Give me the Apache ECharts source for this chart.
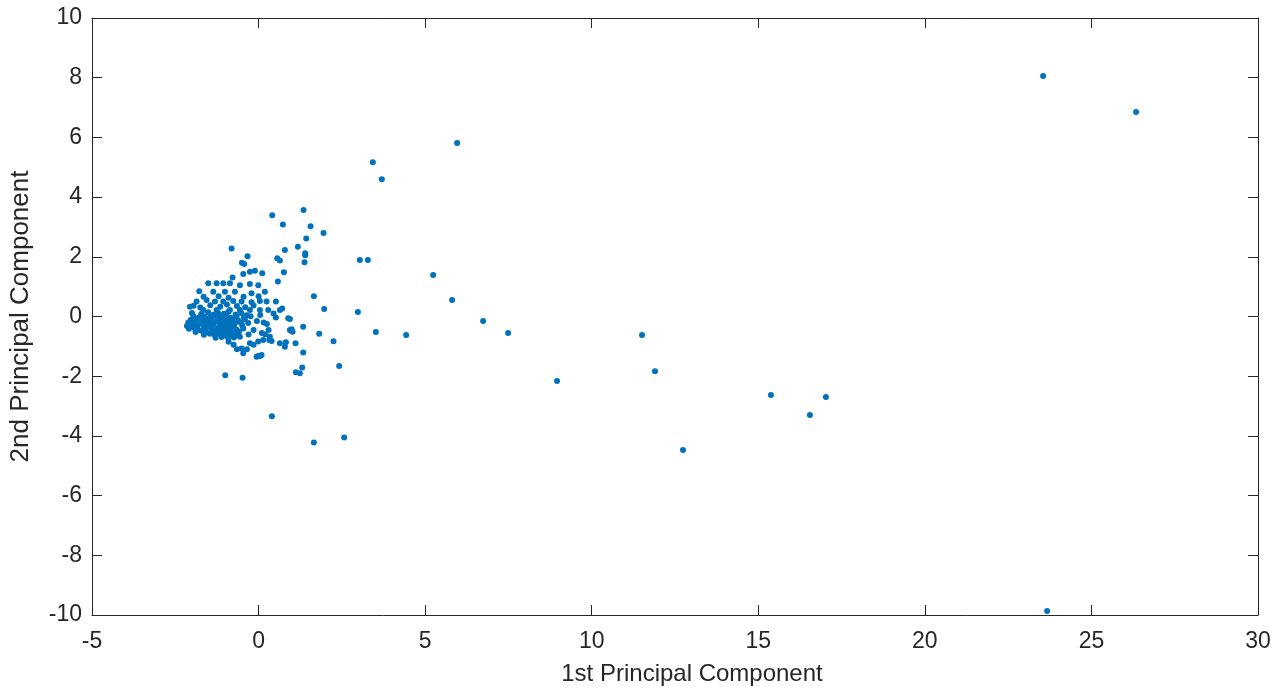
<!DOCTYPE html>
<html>
<head>
<meta charset="utf-8">
<script src="https://cdn.jsdelivr.net/npm/echarts@6/dist/echarts.min.js"></script>
<style>html,body{margin:0;padding:0;background:#fff}#c{width:1285px;height:692px}</style>
</head>
<body>
<div id="c"></div>
<script>
// Principal component scores (1st PC, 2nd PC)
const pc1 = [
  // far points
  23.55, 26.34, 23.67, 5.96, 3.43, 3.70, 5.24, 5.81, 6.74, 7.49, 4.43, 3.52, 2.98, 3.04, 3.28,
  8.96, 11.51, 11.90, 12.74, 15.38, 16.55, 17.03, 2.57, 1.66, 0.40, 2.42,
  // middle points
  0.41, 1.35, 0.73, 1.56, 1.95, 1.43, -0.81, 1.18, 0.79, 1.40, 1.40, 1.38, -0.33, -0.50, -0.43, 0.56, 0.64, 0.76, 0.58,
  -0.46, -0.26, -0.11, 0.11, -0.78,
  1.66, 1.97, 0.52, 0.71, 0.94, 0.99, 1.02, 1.34, 1.82, 2.25, 0.82, 1.11, 1.34, 1.31, 1.12, 1.24, -0.48, -1.00,
  -0.06, 0.04, 0.32, 0.39, 0.52,
  -1.51, -1.26, -1.06, -0.86, -0.56, -0.26, -0.01, -1.78, -1.36, -1.01, -0.71, -0.21, 0.19,
  -1.56, -1.31, -1.06, -0.76, -0.51, -0.21, 0.04, 0.24, -2.06, -1.86,
  -1.66, -1.26, -0.86, -0.56, -0.26, 0.04, 0.29, 0.64, 0.89, 0.94,
  -0.51, -0.46, -0.01, 0.09, -0.26, -0.01, 0.14, 0.34, 0.64, 0.79,
  -0.75, -0.65, -0.35, -0.15, -0.90, 0.15, 0.30, 0.05, 0.45, 0.20,
  // dense cluster
  -2.00, -1.72, -1.51, -1.36, -1.21, -1.04, -0.91, -0.69, -0.52, -0.36,
  -1.96, -1.79, -1.62, -1.44, -1.29, -1.14, -0.99, -0.84, -0.66, -0.44, -0.24,
  -2.04, -1.86, -1.69, -1.54, -1.41, -1.24, -1.09, -0.96, -0.79, -0.61, -0.41,
  -2.11, -1.91, -1.74, -1.59, -1.46, -1.31, -1.16, -1.01, -0.86, -0.71, -0.54, -0.31,
  -2.15, -1.99, -1.84, -1.66, -1.51, -1.36, -1.19, -1.06, -0.89, -0.74, -0.49,
  -2.09, -1.94, -1.81, -1.61, -1.44, -1.29, -1.14, -0.99, -0.84, -0.66, -0.46,
  -1.89, -1.71, -1.56, -1.39, -1.24, -1.09, -0.94, -0.79, -0.59,
  -1.64, -1.46, -1.31, -1.14, -0.99, -0.84, -0.69,
  -1.29, -1.11, -0.91, -0.74, -0.56,
  -1.95, -1.75, -1.45, -1.15, -0.95, -0.65, -0.40, -0.15,
  -1.65, -1.20, -0.90, -0.45, 0.00,
  -0.15, -0.05, 0.10, 0.25, -0.30
];
const pc2 = [
  // far points
  8.06, 6.85, -9.87, 5.81, 5.17, 4.60, 1.39, 0.55, -0.15, -0.55, -0.62, -0.52, 0.15, 1.89, 1.89,
  -2.16, -0.62, -1.83, -4.47, -2.63, -3.30, -2.70, -4.05, -4.22, -3.34, -1.66,
  // middle points
  3.39, 3.57, 3.08, 3.02, 2.80, 2.61, 2.28, 2.34, 2.23, 2.12, 2.05, 1.82, 2.02, 1.80, 1.76, 1.95, 1.88, 1.48, 1.17,
  1.42, 1.50, 1.53, 1.45, 1.31,
  0.68, 0.25, 0.50, 0.27, -0.08, -0.43, -0.51, -0.34, -0.58, -0.83, -0.86, -0.90, -1.21, -1.71, -1.87, -1.90, -2.05, -1.97,
  -1.35, -1.32, -0.79, -0.82, -0.03,
  1.11, 1.11, 1.11, 1.11, 1.05, 1.09, 1.05, 0.85, 0.83, 0.83, 0.83, 0.78, 0.83,
  0.55, 0.50, 0.50, 0.52, 0.50, 0.48, 0.52, 0.50, 0.33, 0.50,
  0.22, 0.22, 0.22, 0.22, 0.22, 0.22, 0.22, 0.22, -0.06, -0.45,
  -1.07, -1.23, -1.32, -1.29, -0.90, -0.84, -0.79, -0.68, -0.90, -1.01,
  -0.95, -1.10, -1.10, -0.95, -0.85, -0.20, -0.45, 0.05, 0.10, -0.60,
  // dense cluster
  0.12, 0.08, 0.14, 0.06, 0.11, 0.09, 0.15, 0.07, 0.12, 0.04,
  0.02, -0.03, 0.01, -0.02, 0.03, -0.01, 0.02, -0.04, 0.00, -0.03, 0.01,
  -0.12, -0.09, -0.13, -0.08, -0.11, -0.14, -0.07, -0.12, -0.09, -0.13, -0.10,
  -0.21, -0.18, -0.23, -0.19, -0.22, -0.17, -0.24, -0.20, -0.18, -0.23, -0.19, -0.22,
  -0.32, -0.28, -0.33, -0.29, -0.31, -0.27, -0.34, -0.30, -0.28, -0.33, -0.30,
  -0.41, -0.38, -0.44, -0.40, -0.37, -0.43, -0.39, -0.42, -0.38, -0.44, -0.40,
  -0.52, -0.48, -0.53, -0.49, -0.54, -0.50, -0.47, -0.53, -0.51,
  -0.61, -0.58, -0.63, -0.60, -0.64, -0.59, -0.62,
  -0.71, -0.69, -0.73, -0.70, -0.68,
  0.36, 0.30, 0.38, 0.33, 0.40, 0.35, 0.31, 0.37,
  0.66, 0.68, 0.63, 0.66, 0.68,
  -0.45, -0.15, -0.55, -0.25, -0.60
];
const xTicks = [-5, 0, 5, 10, 15, 20, 25, 30];
const yTicks = [-10, -8, -6, -4, -2, 0, 2, 4, 6, 8, 10];

const points = pc1.map((x, i) => [x, pc2[i]]);
const ink = '#262626';
const font = 'Liberation Sans, Arial, Helvetica, sans-serif';

const chart = echarts.init(document.getElementById('c'), null, {renderer: 'canvas'});
const baseAxis = {
  axisLine: {show: true, onZero: false, lineStyle: {color: ink, width: 1}},
  axisTick: {show: true, inside: true, length: 10, lineStyle: {color: ink}},
  splitLine: {show: false}
};
chart.setOption({
  animation: false,
  backgroundColor: '#ffffff',
  grid: {left: 92, top: 18, right: 27, bottom: 77, containLabel: false},
  xAxis: [
    Object.assign({}, baseAxis, {
      type: 'value', position: 'bottom', min: xTicks[0], max: xTicks[xTicks.length - 1], interval: 5,
      axisLabel: {color: ink, fontSize: 23, fontFamily: font, margin: 15},
      name: '1st Principal Component', nameLocation: 'middle', nameGap: 47,
      nameTextStyle: {color: ink, fontSize: 24, fontFamily: font, padding: [0, 0, 0, 34]}
    }),
    Object.assign({}, baseAxis, {
      type: 'value', position: 'top', min: xTicks[0], max: xTicks[xTicks.length - 1], interval: 5,
      axisLabel: {show: false}
    })
  ],
  yAxis: [
    Object.assign({}, baseAxis, {
      type: 'value', position: 'left', min: yTicks[0], max: yTicks[yTicks.length - 1], interval: 2,
      axisLabel: {color: ink, fontSize: 23, fontFamily: font, margin: 10},
      name: '2nd Principal Component', nameLocation: 'middle', nameGap: 58,
      nameTextStyle: {color: ink, fontSize: 26, fontFamily: font}
    }),
    Object.assign({}, baseAxis, {
      type: 'value', position: 'right', min: yTicks[0], max: yTicks[yTicks.length - 1], interval: 2,
      axisLabel: {show: false}
    })
  ],
  series: [{
    type: 'scatter',
    xAxisIndex: 0, yAxisIndex: 0,
    data: points,
    symbol: 'circle',
    symbolSize: 6,
    itemStyle: {color: '#0072BD', opacity: 1},
    silent: true
  }]
});
</script>
</body>
</html>
